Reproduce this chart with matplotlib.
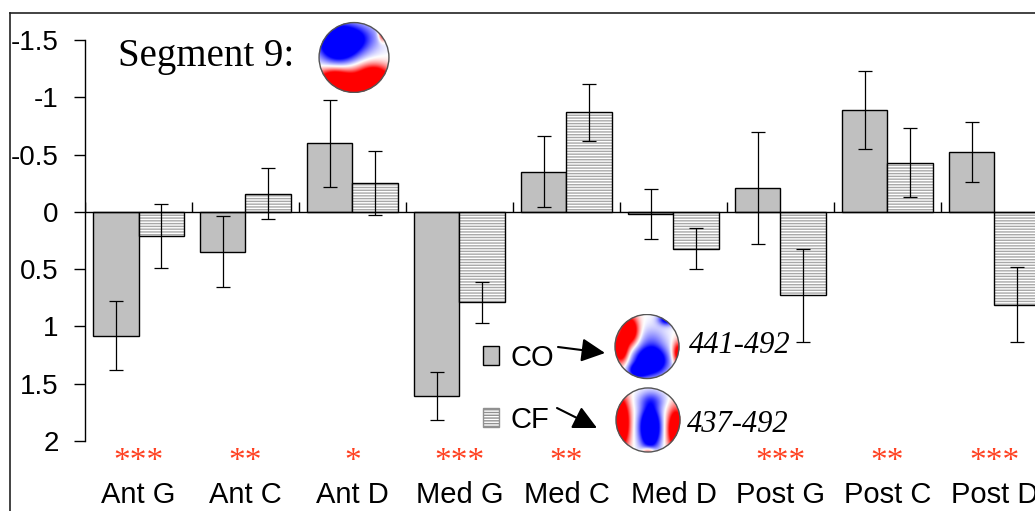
import numpy as np
import matplotlib.pyplot as plt
from matplotlib.patches import Patch, Circle
from matplotlib.colors import LinearSegmentedColormap
from matplotlib.lines import Line2D

plt.rcParams['axes.unicode_minus'] = False
plt.rcParams['font.family'] = 'Liberation Sans'

regions = ['Ant G', 'Ant C', 'Ant D', 'Med G', 'Med C', 'Med D', 'Post G', 'Post C', 'Post D']
co_vals = [1.08, 0.35, -0.60, 1.61, -0.35, 0.02, -0.21, -0.89, -0.52]
co_err = [0.30, 0.31, 0.38, 0.21, 0.31, 0.22, 0.49, 0.34, 0.26]
cf_vals = [0.21, -0.16, -0.25, 0.79, -0.87, 0.32, 0.73, -0.43, 0.81]
cf_err = [0.28, 0.22, 0.28, 0.18, 0.25, 0.18, 0.41, 0.30, 0.33]
stars = ['***', '**', '*', '***', '**', '', '***', '**', '***']
yticks = [-1.5, -1, -0.5, 0, 0.5, 1, 1.5, 2]
ytick_labels = ['-1.5', '-1', '-0.5', '0', '0.5', '1', '1.5', '2']

W, H = 1035, 511
fig = plt.figure(figsize=(W / 100, H / 100), dpi=100)

# outer frame (top and left edges only are visible)
fig.add_artist(Line2D([10 / W, 1], [1 - 13 / H] * 2, color='#222222', lw=1.2))
fig.add_artist(Line2D([10 / W] * 2, [0, 1 - 13 / H], color='#222222', lw=1.2))

ax = fig.add_axes([85 / W, 1 - 441 / H, 963 / W, 401 / H])
x = np.arange(len(regions))
w = 0.425

ax.bar(x - w / 2, co_vals, w, color='#C0C0C0', edgecolor='black', linewidth=1, zorder=2)
ax.bar(x + w / 2, cf_vals, w, color='white', edgecolor='#A8A8A8', hatch='------', linewidth=0, zorder=2)
ax.bar(x + w / 2, cf_vals, w, fill=False, edgecolor='black', linewidth=1, zorder=3)

ax.errorbar(x - w / 2, co_vals, yerr=co_err, fmt='none', ecolor='black',
            elinewidth=0.9, capsize=5, capthick=0.9, zorder=4)
ax.errorbar(x + w / 2, cf_vals, yerr=cf_err, fmt='none', ecolor='black',
            elinewidth=0.9, capsize=5, capthick=0.9, zorder=4)

ax.axhline(0, color='black', lw=1, zorder=3)
ax.vlines(np.arange(len(regions) + 1) - 0.5, 0, -0.09, color='black', lw=1, zorder=3)

ax.set_xlim(-0.5, len(regions) - 0.5)
ax.set_ylim(2, -1.5)
for s in ['top', 'right', 'bottom']:
    ax.spines[s].set_visible(False)
ax.spines['left'].set_linewidth(1)

ax.set_yticks(yticks, ytick_labels)
ax.tick_params(axis='y', direction='out', length=8, width=1, pad=11, labelsize=20)
ax.set_xticks(x, regions)
ax.tick_params(axis='x', length=0, pad=29, labelsize=21)

for xi, s in zip(x, stars):
    ax.text(xi, 2.25, s, ha='center', va='baseline', color='#FF4020', fontsize=24,
            family='Liberation Serif', clip_on=False)

handles = [Patch(facecolor='#C0C0C0', edgecolor='black', lw=1),
           Patch(facecolor='white', edgecolor='#909090', hatch='------', lw=1)]
leg = ax.legend(handles, ['CO', 'CF'], loc='upper left', bbox_to_anchor=(483 / W, 1 - 344 / H),
                bbox_transform=fig.transFigure, frameon=False, fontsize=21,
                handlelength=0.55, handleheight=0.65, handletextpad=0.4,
                labelspacing=1.15, borderpad=0, borderaxespad=0)

arrow = dict(arrowstyle='-|>,head_length=0.8,head_width=0.4', color='black', lw=1.5,
             mutation_scale=18, shrinkA=0, shrinkB=0)
ax.annotate('', xy=(605, H - 353), xycoords='figure pixels',
            xytext=(558, H - 347), textcoords='figure pixels', arrowprops=arrow)
ax.annotate('', xy=(597, H - 428), xycoords='figure pixels',
            xytext=(557, H - 408), textcoords='figure pixels', arrowprops=arrow)

fig.text(118 / W, 1 - 66 / H, 'Segment 9:', family='Liberation Serif', fontsize=28, va='baseline')
fig.text(689 / W, 1 - 353 / H, '441-492', family='Liberation Serif', style='italic',
         fontsize=22, va='baseline')
fig.text(687 / W, 1 - 432 / H, '437-492', family='Liberation Serif', style='italic',
         fontsize=22, va='baseline')

# scalp maps
cmap = LinearSegmentedColormap.from_list('bwr_topo', ['#0000ff', '#ffffff', '#ff0000'])
gx, gy = np.meshgrid(np.linspace(-1, 1, 200), np.linspace(-1, 1, 200))


def blob(cx, cy, sx, sy, amp):
    return amp * np.exp(-((gx - cx) ** 2 / (2 * sx ** 2) + (gy - cy) ** 2 / (2 * sy ** 2)))


seg_map = (blob(-0.45, 0.4, 0.38, 0.35, -2.2) + blob(0.15, 0.55, 0.4, 0.3, -0.7)
           + blob(0.1, -0.85, 0.8, 0.3, 2.0) + blob(0.55, -0.45, 0.3, 0.2, 1.0)
           + blob(-0.6, -0.55, 0.3, 0.18, 0.9) + blob(0.8, 0.7, 0.08, 0.15, 1.3))
co_map = (blob(-0.55, 0.5, 0.18, 0.3, 1.9) + blob(-0.82, -0.05, 0.15, 0.3, 1.9)
          + blob(0.1, -0.45, 0.35, 0.3, -2.0) + blob(-0.3, -0.75, 0.2, 0.15, -1.2)
          + blob(0.6, 0.85, 0.18, 0.13, -1.3) + blob(0.95, -0.2, 0.12, 0.25, 1.4)
          + blob(0.15, 0.2, 0.3, 0.3, -0.4))
cf_map = (blob(-0.85, -0.1, 0.18, 0.55, 2.2) + blob(0.85, -0.3, 0.18, 0.45, 2.0)
          + blob(0.05, -0.25, 0.22, 0.45, -2.2) + blob(0.1, 0.6, 0.3, 0.2, -0.5)
          + blob(0.0, -1.0, 0.15, 0.1, 1.0))

for (cx, cy, r), field in [((354, 57.5, 36), seg_map), ((647, 346.5, 33), co_map),
                           ((648, 420, 33), cf_map)]:
    tax = fig.add_axes([(cx - r) / W, 1 - (cy + r) / H, 2 * r / W, 2 * r / H])
    im = tax.imshow(field, cmap=cmap, vmin=-1, vmax=1, origin='lower',
                    extent=[-1, 1, -1, 1], interpolation='bilinear')
    im.set_clip_path(Circle((0, 0), 1, transform=tax.transData))
    tax.add_patch(Circle((0, 0), 0.99, fill=False, edgecolor='#555555', lw=1))
    tax.set_xlim(-1.02, 1.02)
    tax.set_ylim(-1.02, 1.02)
    tax.axis('off')

fig.savefig('out.png', dpi=100)
